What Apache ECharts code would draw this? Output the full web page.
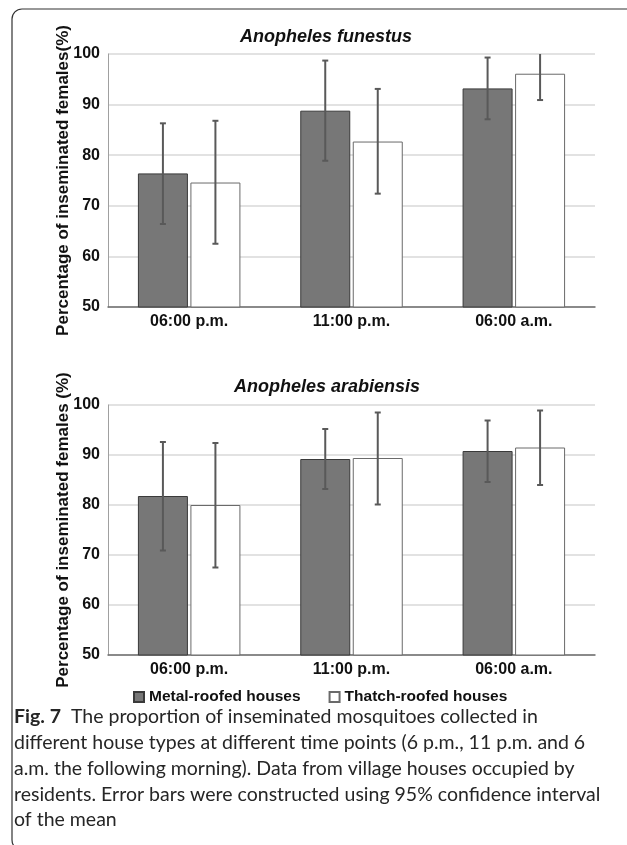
<!DOCTYPE html>
<html>
<head>
<meta charset="utf-8">
<script src="https://cdn.jsdelivr.net/npm/echarts@6/dist/echarts.min.js"></script>
<style>
  html, body { margin: 0; padding: 0; background: #fff; }
  #chart { width: 627px; height: 845px; }
</style>
</head>
<body>
<div id="chart"></div>
<script>
// categories (time points)
const categories = ['06:00 p.m.', '11:00 p.m.', '06:00 a.m.']

// Anopheles funestus
const funestusMetal = [76.4, 88.8, 93.2]
const funestusMetalLow = [66.4, 78.9, 87.1]
const funestusMetalHigh = [86.3, 98.7, 99.3]
const funestusThatch = [74.6, 82.7, 96.1]
const funestusThatchLow = [62.5, 72.4, 90.9]
const funestusThatchHigh = [86.8, 93.1, 101.3]

// Anopheles arabiensis
const arabiensisMetal = [81.8, 89.2, 90.8]
const arabiensisMetalLow = [70.9, 83.2, 84.6]
const arabiensisMetalHigh = [92.6, 95.2, 96.9]
const arabiensisThatch = [80.0, 89.4, 91.5]
const arabiensisThatchLow = [67.5, 80.1, 84.0]
const arabiensisThatchHigh = [92.4, 98.5, 98.9]

const yMin = 50
const yMax = 100
const yStep = 10

const BAR_W = 50
const BAR_GAP = 0.05
const OFFSET = (BAR_W + BAR_W * BAR_GAP) / 2
const FONT = '"Liberation Sans", Arial, sans-serif'
const CAPTION_FONT = 'Lato, "Open Sans", sans-serif'

const chart = echarts.init(document.getElementById('chart'))

function errorData(low, high) {
  return low.map((v, i) => [i, v, high[i]])
}

function errorRender(offset) {
  return function (params, api) {
    const i = api.value(0)
    const lo = api.coord([i, api.value(1)])
    const hi = api.coord([i, api.value(2)])
    const x = lo[0] + offset
    const style = { stroke: '#595959', lineWidth: 2 }
    return {
      type: 'group',
      children: [
        { type: 'line', shape: { x1: x, y1: lo[1], x2: x, y2: hi[1] }, style },
        { type: 'line', shape: { x1: x - 3, y1: lo[1], x2: x + 3, y2: lo[1] }, style },
        { type: 'line', shape: { x1: x - 3, y1: hi[1], x2: x + 3, y2: hi[1] }, style }
      ]
    }
  }
}

const metalStyle = { color: '#777777', borderColor: '#3a3a3a', borderWidth: 1 }
const thatchStyle = { color: '#ffffff', borderColor: '#6a6a6a', borderWidth: 1 }

function xAxisFor(gridIndex) {
  return {
    type: 'category',
    gridIndex,
    data: categories,
    axisTick: { show: false },
    axisLine: { lineStyle: { color: '#6e6e6e', width: 1.5 } },
    axisLabel: { color: '#111', fontFamily: FONT, fontWeight: 'bold', fontSize: 16, margin: 7 }
  }
}

function yAxisFor(gridIndex, name) {
  return {
    type: 'value',
    gridIndex,
    min: yMin,
    max: yMax,
    interval: yStep,
    name,
    nameLocation: 'middle',
    nameRotate: 90,
    nameGap: 36,
    nameMoveOverlap: false,
    nameTextStyle: { color: '#111', fontFamily: FONT, fontWeight: 'bold', fontSize: 17 },
    axisLine: { show: true, lineStyle: { color: '#a0a0a0', width: 1 } },
    axisTick: { show: false },
    axisLabel: { color: '#111', fontFamily: FONT, fontWeight: 'bold', fontSize: 16, margin: 8 },
    splitLine: { lineStyle: { color: '#d9d9d9', width: 1.5 } }
  }
}

function barSeries(name, data, idx, style) {
  return {
    name,
    type: 'bar',
    xAxisIndex: idx,
    yAxisIndex: idx,
    data,
    barWidth: BAR_W,
    barGap: (BAR_GAP * 100) + '%',
    itemStyle: style,
    z: 2
  }
}

function errSeries(low, high, idx, offset) {
  return {
    type: 'custom',
    xAxisIndex: idx,
    yAxisIndex: idx,
    data: errorData(low, high),
    encode: { x: 0, y: [1, 2] },
    renderItem: errorRender(offset),
    clip: true,
    silent: true,
    z: 5
  }
}

const captionLines = [
  '{b|Fig. 7}  The proportion of inseminated mosquitoes collected in',
  'different house types at different time points (6 p.m., 11 p.m. and 6',
  'a.m. the following morning). Data from village houses occupied by',
  'residents. Error bars were constructed using 95% confidence interval',
  'of the mean'
]

chart.setOption({
  animation: false,
  backgroundColor: '#fff',
  title: [
    {
      text: 'Anopheles funestus',
      left: 321, top: 23, textAlign: 'center',
      textStyle: { fontFamily: FONT, fontWeight: 'bold', fontStyle: 'italic', fontSize: 18, color: '#111' }
    },
    {
      text: 'Anopheles arabiensis',
      left: 322, top: 373, textAlign: 'center',
      textStyle: { fontFamily: FONT, fontWeight: 'bold', fontStyle: 'italic', fontSize: 18, color: '#111' }
    }
  ],
  legend: {
    data: ['Metal-roofed houses', 'Thatch-roofed houses'],
    left: 128, top: 684,
    icon: 'rect',
    itemWidth: 10, itemHeight: 10,
    itemGap: 28,
    textStyle: { fontFamily: FONT, fontWeight: 'bold', fontSize: 15.5, color: '#111' }
  },
  grid: [
    { left: 108, right: 32, top: 54, height: 253 },
    { left: 108, right: 32, top: 405, height: 250 }
  ],
  xAxis: [xAxisFor(0), xAxisFor(1)],
  yAxis: [
    yAxisFor(0, 'Percentage of inseminated females(%)'),
    yAxisFor(1, 'Percentage of inseminated females (%)')
  ],
  series: [
    barSeries('Metal-roofed houses', funestusMetal, 0, metalStyle),
    barSeries('Thatch-roofed houses', funestusThatch, 0, thatchStyle),
    errSeries(funestusMetalLow, funestusMetalHigh, 0, -OFFSET),
    errSeries(funestusThatchLow, funestusThatchHigh, 0, OFFSET),
    barSeries('Metal-roofed houses', arabiensisMetal, 1, metalStyle),
    barSeries('Thatch-roofed houses', arabiensisThatch, 1, thatchStyle),
    errSeries(arabiensisMetalLow, arabiensisMetalHigh, 1, -OFFSET),
    errSeries(arabiensisThatchLow, arabiensisThatchHigh, 1, OFFSET)
  ],
  graphic: [
    // frame round the figure
    {
      type: 'rect',
      shape: { x: 12, y: 9, width: 700, height: 841, r: [10, 0, 0, 10] },
      style: { fill: 'none', stroke: '#333', lineWidth: 1.2 },
      silent: true
    },
    // caption
    ...captionLines.map((line, i) => ({
      type: 'text',
      left: 14,
      top: 707 + i * 25.8,
      style: {
        text: line,
        fontFamily: CAPTION_FONT,
        fontSize: 19.5,
        fill: '#262626',
        rich: {
          b: { fontFamily: CAPTION_FONT, fontWeight: 'bold', fontSize: 19.5, fill: '#262626' }
        }
      }
    }))
  ]
})
</script>
</body>
</html>
